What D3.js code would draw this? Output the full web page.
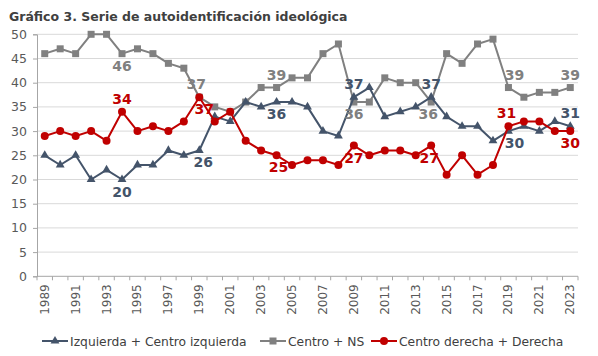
<!DOCTYPE html>
<html>
<head>
<meta charset="utf-8">
<script src="https://cdn.jsdelivr.net/npm/d3@7"></script>
<style>
  html, body { margin: 0; padding: 0; background: #ffffff; }
  svg { display: block; font-family: "DejaVu Sans", "Noto Sans", sans-serif; }
</style>
</head>
<body>
<svg id="chart" width="598" height="356"></svg>
<script>
const years = d3.range(1989, 2024).map(String);
const izquierda = [25,23,25,20,22,20,23,23,26,25,26,33,32,36,35,36,36,35,30,29,37,39,33,34,35,37,33,31,31,28,30,31,30,32,31];
const centroNS  = [46,47,46,50,50,46,47,46,44,43,37,35,34,36,39,39,41,41,46,48,36,36,41,40,40,36,46,44,48,49,39,37,38,38,39];
const derecha   = [29,30,29,30,28,34,30,31,30,32,37,32,34,28,26,25,23,24,24,23,27,25,26,26,25,27,21,25,21,23,31,32,32,30,30];
const yTicks = [0,5,10,15,20,25,30,35,40,45,50];
const labelYears = ["1994","1999","2004","2009","2014","2019","2023"];
const seriesNames = ["Izquierda + Centro izquierda","Centro + NS","Centro derecha + Derecha"];
const titleText = "Gráfico 3. Serie de autoidentificación ideológica";

(function () {
const colors = ["#44546a","#808080","#c00000"];
const markers = ["triangle","square","circle"];
const labelOffsets = [
  {"1994":[0,17],"1999":[4,17],"2004":[0,17],"2009":[0,-8],"2014":[0,-8],"2019":[6,17],"2023":[0,-8]},
  {"1994":[0,17],"1999":[-3,-8],"2004":[0,-8],"2009":[0,17],"2014":[-3,17],"2019":[6,-8],"2023":[0,-8]},
  {"1994":[0,-8],"1999":[5,17],"2004":[2,17],"2009":[0,17],"2014":[-2,17],"2019":[-2,-8],"2023":[0,17]}
];

const svg = d3.select("#chart");
const pLeft = 37, pRight = 578, pTop = 34.3, pBottom = 276.3;

const x = d3.scaleBand().domain(years).range([pLeft, pRight]).padding(0);
const y = d3.scaleLinear().domain([0, 50]).range([pBottom, pTop]);

svg.append("text").attr("x", 9).attr("y", 21)
  .attr("font-size", 12.5).attr("font-weight", "bold").attr("fill", "#404040")
  .text(titleText);

svg.append("g").selectAll("line").data(yTicks.filter(d => d > 0)).join("line")
  .attr("x1", pLeft).attr("x2", pRight)
  .attr("y1", d => y(d)).attr("y2", d => y(d))
  .attr("stroke", "#d9d9d9").attr("stroke-width", 1);

const yAxis = svg.append("g").attr("transform", `translate(${pLeft},0)`)
  .call(d3.axisLeft(y).tickValues(yTicks).tickSize(4).tickPadding(6));
yAxis.select(".domain").attr("stroke", "#a6a6a6");
yAxis.selectAll(".tick line").attr("stroke", "#a6a6a6");
yAxis.selectAll("text").attr("font-size", 12.5).attr("fill", "#595959")
  .attr("font-family", "DejaVu Sans, sans-serif");

const xAxisG = svg.append("g").attr("transform", `translate(0,${pBottom})`);
xAxisG.append("line").attr("x1", pLeft).attr("x2", pRight).attr("y1", 0).attr("y2", 0)
  .attr("stroke", "#a6a6a6");
const bounds = years.map(d => x(d)).concat([pRight]);
xAxisG.selectAll("line.tk").data(bounds).join("line").attr("class", "tk")
  .attr("x1", d => d).attr("x2", d => d).attr("y1", 0).attr("y2", 4)
  .attr("stroke", "#a6a6a6");
xAxisG.selectAll("text").data(years.filter((d, i) => i % 2 === 0)).join("text")
  .attr("transform", d => `translate(${x(d) + x.bandwidth() / 2 + 4},8) rotate(-90)`)
  .attr("text-anchor", "end")
  .attr("font-size", 12).attr("fill", "#595959")
  .text(d => d);

const allSeries = [izquierda, centroNS, derecha];

function drawMarker(g, type, color) {
  if (type === "triangle") {
    g.append("path").attr("d", d3.symbol(d3.symbolTriangle, 34)()).attr("fill", color);
  } else if (type === "square") {
    g.append("rect").attr("x", -3.5).attr("y", -3.5).attr("width", 7).attr("height", 7).attr("fill", color);
  } else {
    g.append("circle").attr("r", 4).attr("fill", color);
  }
}

const line = d3.line().x((d, i) => x(years[i]) + x.bandwidth() / 2).y(d => y(d));

[1, 0, 2].forEach(si => {
  const vals = allSeries[si];
  const g = svg.append("g");
  g.append("path").datum(vals).attr("d", line)
    .attr("fill", "none").attr("stroke", colors[si]).attr("stroke-width", 2)
    .attr("stroke-linejoin", "round");
  vals.forEach((v, i) => {
    const mg = g.append("g").attr("transform", `translate(${x(years[i]) + x.bandwidth() / 2},${y(v)})`);
    drawMarker(mg, markers[si], colors[si]);
  });
});

[0, 1, 2].forEach(si => {
  const vals = allSeries[si];
  labelYears.forEach(yr => {
    const i = years.indexOf(yr);
    const off = labelOffsets[si][yr];
    svg.append("text")
      .attr("x", x(yr) + x.bandwidth() / 2 + off[0])
      .attr("y", y(vals[i]) + off[1])
      .attr("text-anchor", "middle")
      .attr("font-size", 14).attr("font-weight", "bold")
      .attr("fill", colors[si])
      .text(vals[i]);
  });
});

const legendX = [42, 260, 371];
const legend = svg.append("g").attr("transform", "translate(0,341)");
seriesNames.forEach((name, si) => {
  const lg = legend.append("g").attr("transform", `translate(${legendX[si]},0)`);
  lg.append("line").attr("x1", 0).attr("x2", 26).attr("y1", 0).attr("y2", 0)
    .attr("stroke", colors[si]).attr("stroke-width", 2);
  const mg = lg.append("g").attr("transform", "translate(13,0)");
  drawMarker(mg, markers[si], colors[si]);
  lg.append("text").attr("x", 28).attr("y", 4.5)
    .attr("font-size", 12.3).attr("fill", "#404040")
    .text(name);
});
})();
</script>
</body>
</html>
